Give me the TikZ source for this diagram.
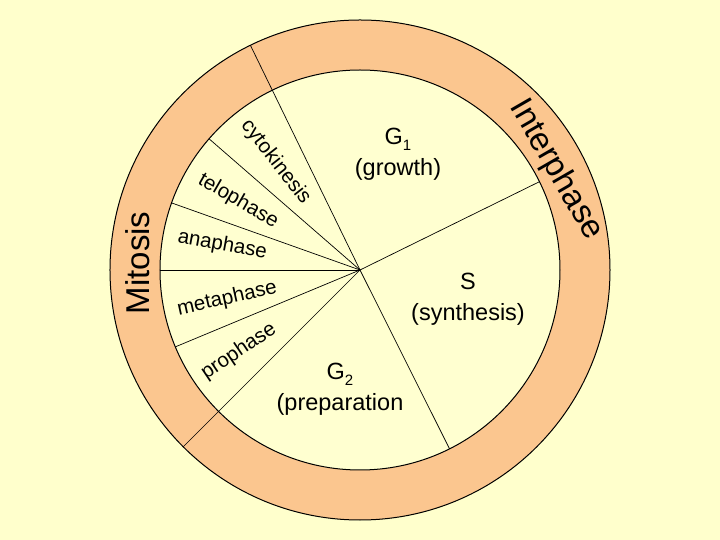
\documentclass[tikz,border=0pt]{standalone}
\usepackage{fontspec}
\setmainfont{Liberation Sans}
\definecolor{ringorange}{RGB}{251, 198, 143}
\definecolor{paleyellow}{RGB}{255, 255, 204}
\definecolor{innercream}{RGB}{255, 255, 208}
\newcommand{\lowidx}[1]{\raisebox{-0.5ex}{\fontsize{15}{15}\selectfont #1}}
\tikzset{
    phase label/.style={font=\fontsize{20.5}{20}\selectfont, inner sep=0pt},
    stage label/.style={font=\fontsize{23.5}{31}\selectfont, align=center, inner sep=0pt},
    ring label/.style={font=\fontsize{33}{33}\selectfont, inner sep=0pt},
    divider/.style={black, line width=0.7pt},
}

\begin{document}
\begin{tikzpicture}[x=1pt, y=1pt]
    \useasboundingbox[fill=paleyellow] (-360,-270) rectangle (360,270);
    \coordinate (o) at (0,0);
    \filldraw[fill=ringorange, draw=black, line width=1pt] (o) circle (250);
    \filldraw[fill=innercream, draw=black, line width=1pt] (o) circle (200);
    % spokes, the two long ones cut the ring
    \foreach \a/\r [count=\i] in {116/250, 139/200, 160.4/200, 180/200, 202.6/200, 225/250, 26.2/200, -63.4/200} {
        \coordinate (end\i) at (\a:\r);
        \draw[divider] (o) -- (end\i);
    }
    % mitosis stages
    \node[phase label, rotate=-52] (cyto) at (128:137) {cytokinesis};
    \node[phase label, rotate=-30] (telo) at (150.5:140) {telophase};
    \node[phase label, rotate=-10.3] (ana) at (169.7:140) {anaphase};
    \node[phase label, rotate=12.5] (meta) at (192.3:136) {metaphase};
    \node[phase label, rotate=34] (pro) at (214:146) {prophase};
    % interphase stages
    \node[stage label] (gone) at (38,116) {G\lowidx{1}\\(growth)};
    \node[stage label] (synth) at (108,-29) {S\\(synthesis)};
    \node[stage label] (gtwo) at (-20,-119) {G\lowidx{2}\\(preparation};
    % ring
    \node[ring label, rotate=90] (mito) at (-222,7) {Mitosis};
    \node[ring label, rotate=-60] (inter) at (196,100) {Interphase};
\end{tikzpicture}
\end{document}
